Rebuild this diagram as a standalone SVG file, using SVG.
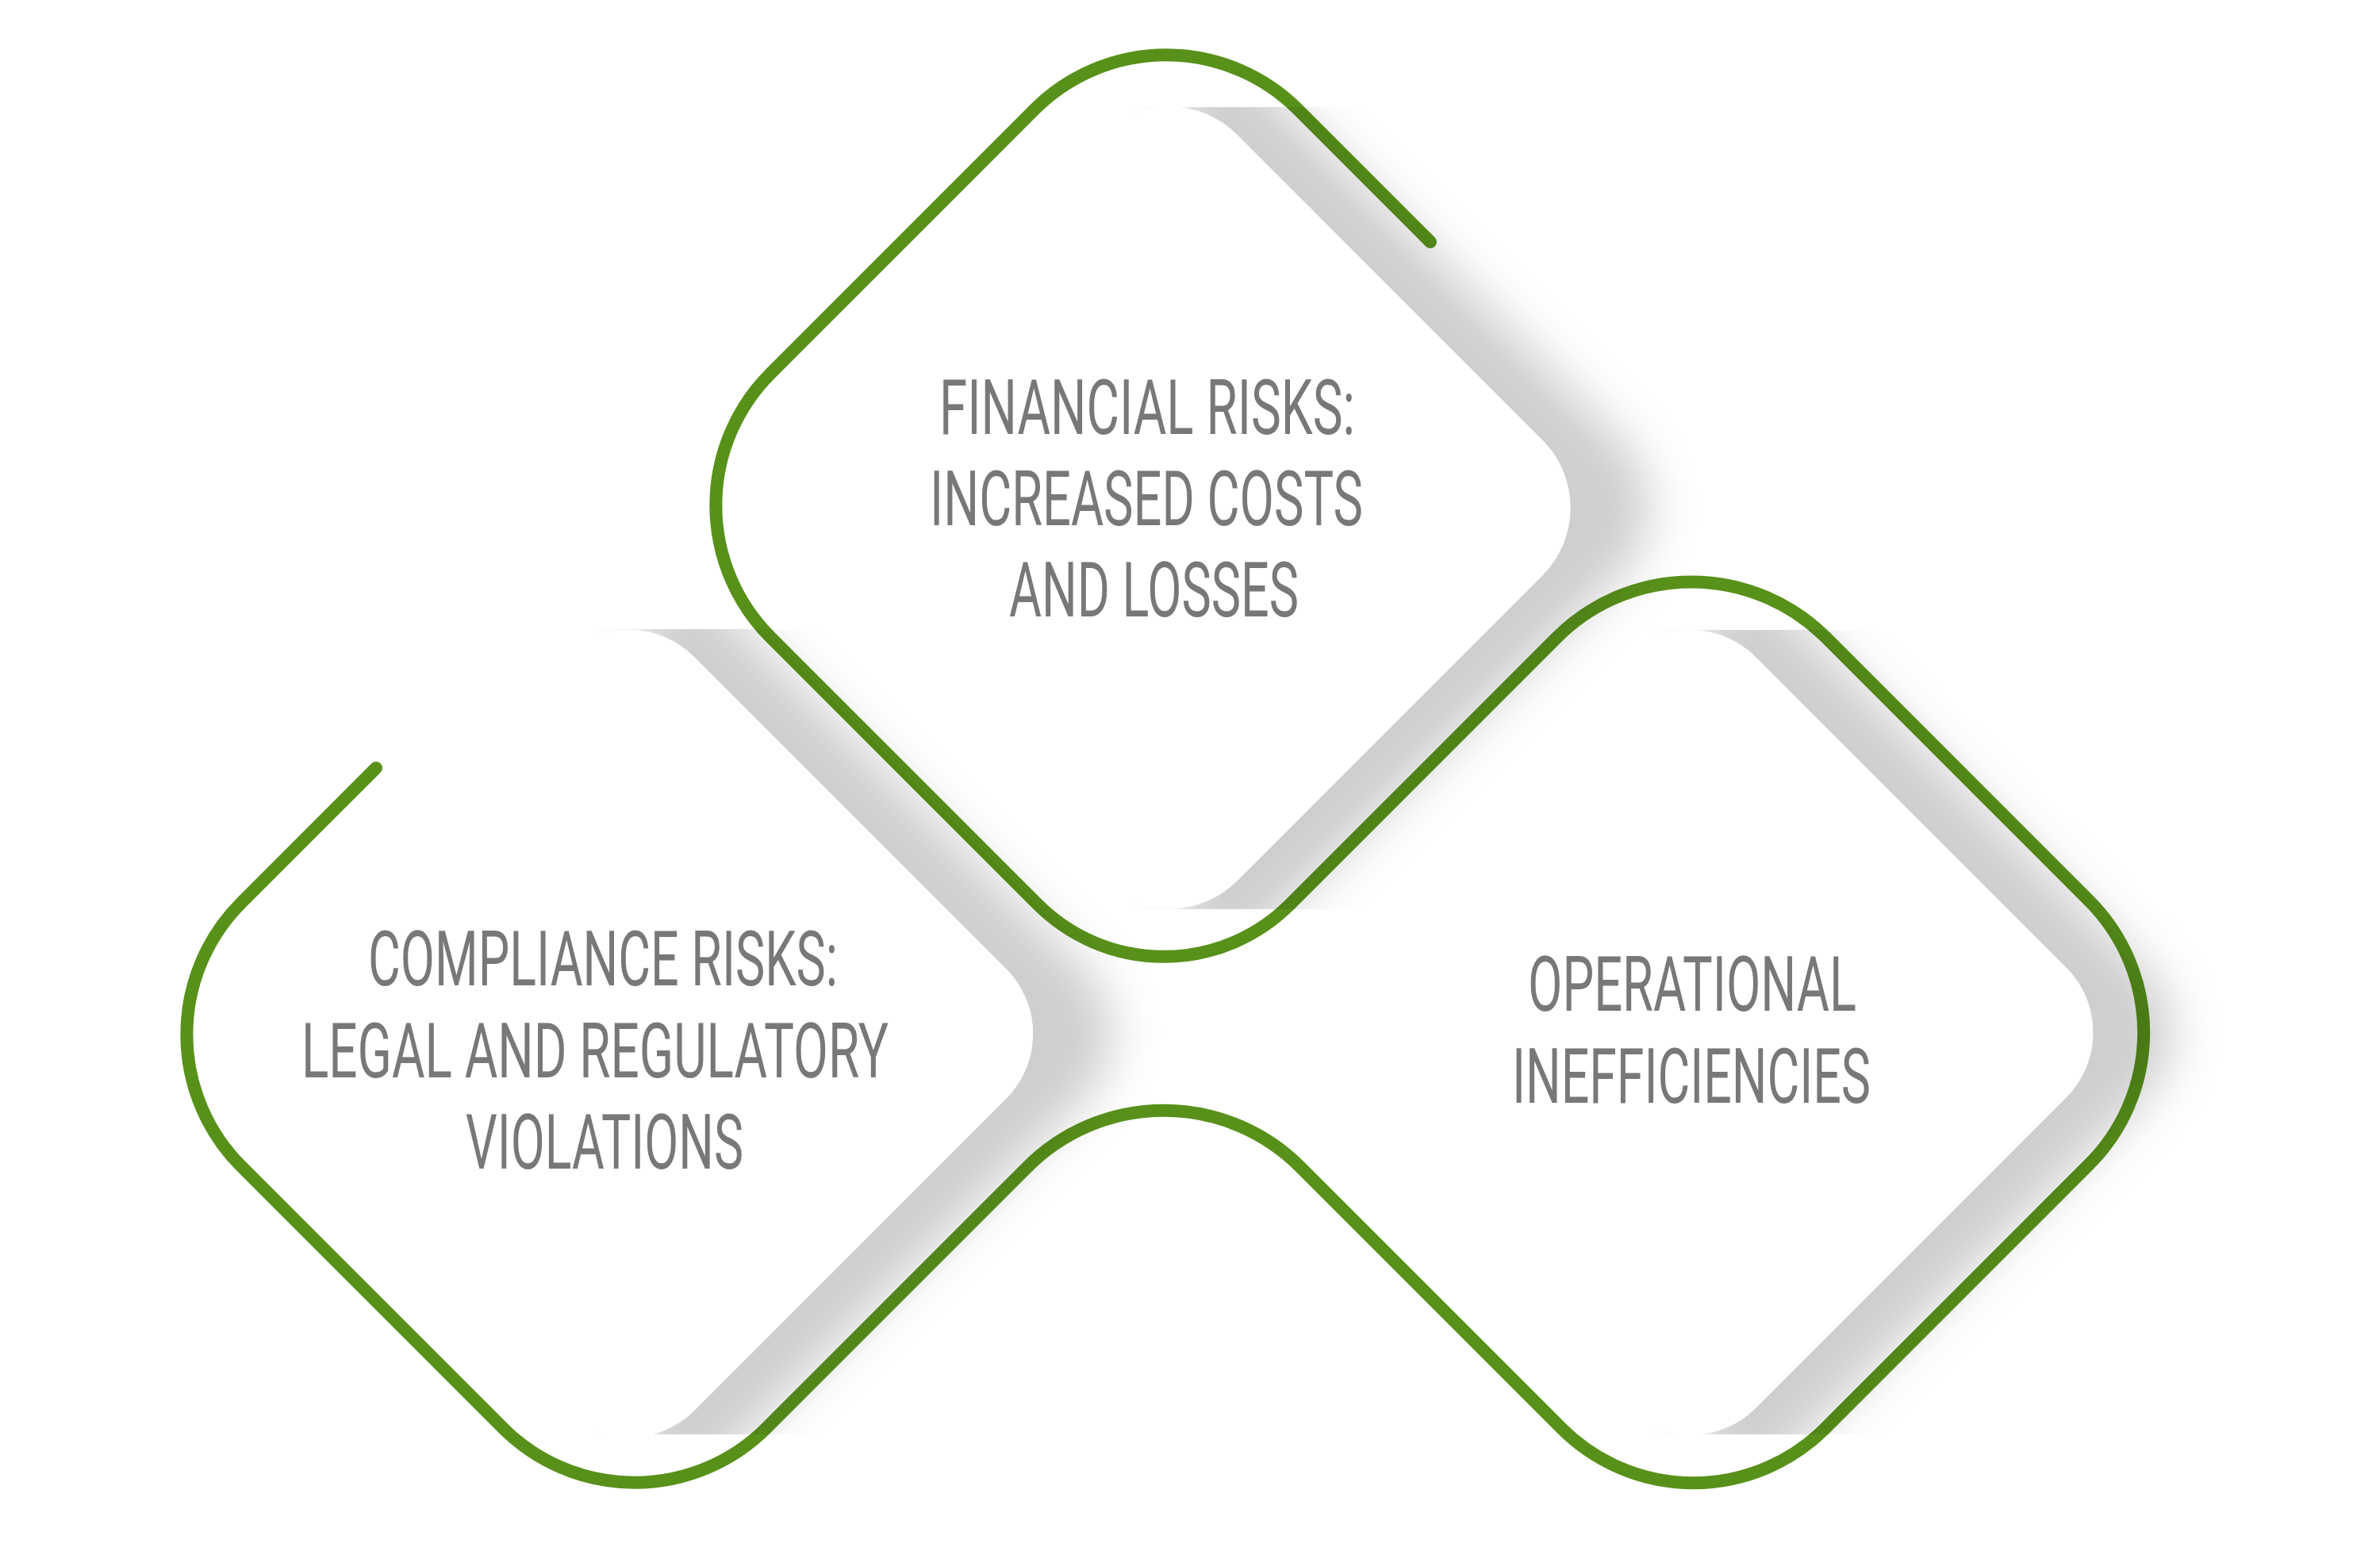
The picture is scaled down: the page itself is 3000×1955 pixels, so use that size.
<svg xmlns="http://www.w3.org/2000/svg" width="3000" height="1955" viewBox="0 0 3000 1955">
  <defs>
    <style>
      .outline { fill: none; stroke: #58911a; stroke-width: 16; stroke-linecap: round; stroke-linejoin: round; }
      .card { fill: #ffffff; }
      .shadow { fill: #000000; fill-opacity: 0.19; filter: url(#soft); }
      .label { font-family: Roboto, "Liberation Sans", Arial, sans-serif; font-weight: 400; font-size: 96px; fill: #787878; }
    </style>
    <filter id="soft" x="-50%" y="-20%" width="200%" height="140%">
      <feGaussianBlur stdDeviation="30"/>
    </filter>
    <clipPath id="clipT"><rect x="0" y="135" width="3000" height="1011"/></clipPath>
    <clipPath id="clipL"><rect x="0" y="793" width="3000" height="1015"/></clipPath>
    <clipPath id="clipR"><rect x="0" y="794" width="3000" height="1014"/></clipPath>
  </defs>
  <rect x="0" y="0" width="3000" height="1955" fill="#ffffff"/>

  <g id="connectors">
    <path class="outline" d="M 474 968 L 304.17 1137.83 A 235 235 0 0 0 304.17 1470.17 L 633.83 1799.83 A 235 235 0 0 0 966.17 1799.83 L 1295.17 1470.83 A 243 243 0 0 1 1638.83 1470.83 L 1968.33 1800.33 A 235 235 0 0 0 2300.67 1800.33 L 2633.33 1467.67 A 235 235 0 0 0 2633.33 1135.33 L 2301.71 803.71 A 240 240 0 0 0 1962.29 803.71 L 1626.1 1139.9 A 225 225 0 0 1 1307.9 1139.9 L 971.17 803.17 A 235 235 0 0 1 971.17 470.83 L 1303.83 138.17 A 235 235 0 0 1 1636.17 138.17 L 1803 305"/>
  </g>

  <g id="node-financial">
    <g clip-path="url(#clipT)">
      <path class="shadow" d="M 1489 75 L 1564.8 75 L 2044.24 554.44 A 121 121 0 0 1 2044.24 725.56 L 1563.8 1206 L 1489 1206 Z"/>
    </g>
    <rect class="card" x="-393" y="-393" width="786" height="786" rx="121" transform="translate(1474 640) rotate(45)"/>
    <text class="label" x="1184" y="546.5" textLength="524" lengthAdjust="spacingAndGlyphs">FINANCIAL RISKS:</text>
    <text class="label" x="1172" y="661.5" textLength="546" lengthAdjust="spacingAndGlyphs">INCREASED COSTS</text>
    <text class="label" x="1272" y="777" textLength="365" lengthAdjust="spacingAndGlyphs">AND LOSSES</text>
  </g>

  <g id="node-compliance">
    <g clip-path="url(#clipL)">
      <path class="shadow" d="M 808 733 L 880.2 733 L 1368.18 1220.98 A 116 116 0 0 1 1368.18 1385.02 L 885.2 1868 L 808 1868 Z"/>
    </g>
    <rect class="card" x="-394" y="-394" width="788" height="788" rx="116" transform="translate(793 1303) rotate(45)"/>
    <text class="label" x="464" y="1242" textLength="592" lengthAdjust="spacingAndGlyphs">COMPLIANCE RISKS:</text>
    <text class="label" x="380" y="1358" textLength="740" lengthAdjust="spacingAndGlyphs">LEGAL AND REGULATORY</text>
    <text class="label" x="587" y="1473" textLength="350" lengthAdjust="spacingAndGlyphs">VIOLATIONS</text>
  </g>

  <g id="node-operational">
    <g clip-path="url(#clipR)">
      <path class="shadow" d="M 2146 734 L 2219 734 L 2704.48 1219.48 A 116 116 0 0 1 2704.48 1383.52 L 2220 1868 L 2146 1868 Z"/>
    </g>
    <rect class="card" x="-392.8" y="-392.8" width="785.6" height="785.6" rx="116" transform="translate(2131 1301.5) rotate(45)"/>
    <text class="label" x="1926" y="1274" textLength="414" lengthAdjust="spacingAndGlyphs">OPERATIONAL</text>
    <text class="label" x="1906" y="1389.5" textLength="452" lengthAdjust="spacingAndGlyphs">INEFFICIENCIES</text>
  </g>
</svg>
